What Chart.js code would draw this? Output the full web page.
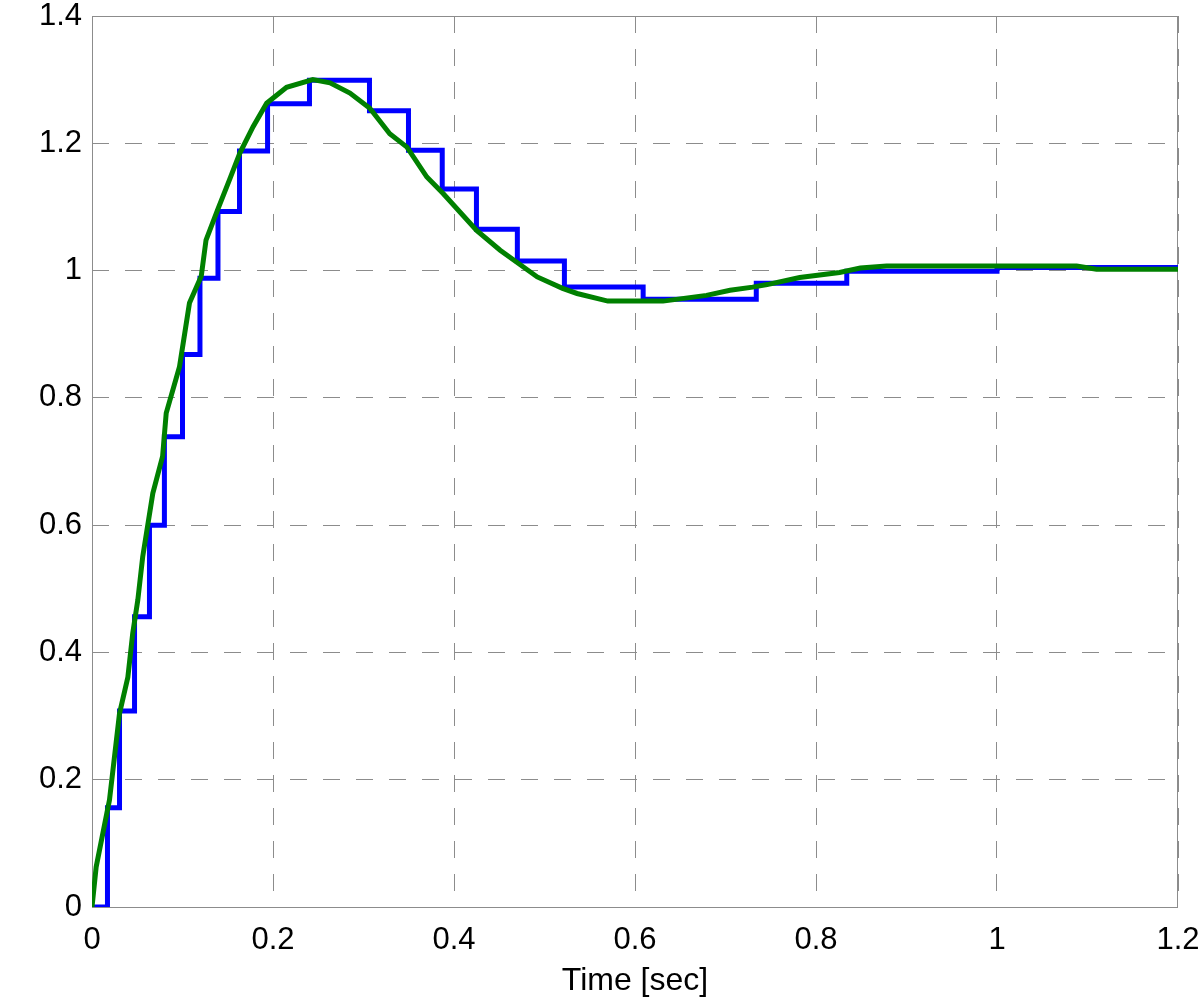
<!DOCTYPE html>
<html>
<head>
<meta charset="utf-8">
<style>
  body { margin: 0; background: #fff; }
  #wrap { width: 1200px; height: 1000px; }
</style>
<script src="https://cdn.jsdelivr.net/npm/chart.js@4/dist/chart.umd.min.js"></script>
</head>
<body>
<div id="wrap"><canvas id="myChart" width="1200" height="1000"></canvas></div>
<script>
// sampled (step) response: value holds from each time until the next one
const stepTimes  = [0, 0.0171, 0.0304, 0.047, 0.0635, 0.080, 0.100, 0.1193, 0.1392, 0.163, 0.194, 0.2403, 0.3066, 0.3497, 0.387, 0.4248, 0.470, 0.522, 0.609, 0.734, 0.834, 1.0, 1.2];
const stepValues = [0, 0.156, 0.308, 0.456, 0.600, 0.739, 0.868, 0.988, 1.093, 1.188, 1.262, 1.299, 1.251, 1.189, 1.128, 1.065, 1.015, 0.974, 0.955, 0.980, 0.999, 1.005, 1.005];

// continuous response
const contTimes  = [0, 0.0046, 0.0193, 0.0304, 0.0396, 0.045, 0.0506, 0.056, 0.0672, 0.078, 0.082, 0.0967, 0.1077, 0.1207, 0.126, 0.139, 0.152, 0.1635, 0.178, 0.193, 0.215, 0.244, 0.263, 0.285, 0.307, 0.329, 0.348, 0.37, 0.388, 0.425, 0.451, 0.492, 0.52, 0.536, 0.570, 0.631, 0.679, 0.705, 0.730, 0.746, 0.782, 0.826, 0.849, 0.878, 1.088, 1.11, 1.2];
const contValues = [0, 0.063, 0.168, 0.304, 0.361, 0.43, 0.482, 0.55, 0.65, 0.708, 0.776, 0.849, 0.949, 0.991, 1.048, 1.096, 1.143, 1.185, 1.226, 1.263, 1.288, 1.300, 1.295, 1.279, 1.255, 1.215, 1.194, 1.147, 1.121, 1.063, 1.032, 0.99, 0.972, 0.964, 0.952, 0.952, 0.961, 0.969, 0.974, 0.978, 0.989, 0.997, 1.004, 1.007, 1.007, 1.002, 1.002];

const xLabel = 'Time [sec]';

const toPoints = (xs, ys) => xs.map((x, i) => ({ x: x, y: ys[i] }));
// matlab style: 1 not 1.0
const tickText = (v) => String(Number(v.toFixed(2)));
// let the edge labels hang out, don't shrink the plot for them
const noEdgePad = (scale) => {
    scale.paddingTop = 0;
    scale.paddingBottom = 0;
    scale.paddingLeft = 0;
    scale.paddingRight = 0;
};

// box round the plot area, like matlab axes
const framePlugin = {
    id: 'frame',
    beforeDatasetsDraw(chart) {
        const a = chart.chartArea;
        const c = chart.ctx;
        c.save();
        c.strokeStyle = '#8c8c8c';
        c.lineWidth = 1;
        c.strokeRect(a.left + 0.5, a.top + 0.5, a.right - a.left - 1, a.bottom - a.top);
        c.restore();
    }
};

const ctx = document.getElementById('myChart').getContext('2d');
const myChart = new Chart(ctx, {
    type: 'line',
    data: {
        datasets: [{
            label: 'continuous',
            data: toPoints(contTimes, contValues),
            borderColor: '#008000',
            borderWidth: 5,
            tension: 0,
            order: 1
        }, {
            label: 'sampled',
            data: toPoints(stepTimes, stepValues),
            borderColor: '#0000ff',
            borderWidth: 5,
            stepped: 'before',
            borderJoinStyle: 'miter',
            order: 2
        }]
    },
    options: {
        responsive: false,
        animation: false,
        devicePixelRatio: 1,
        layout: {
            padding: { top: 16, right: 22, bottom: 0, left: 0 }
        },
        plugins: {
            legend: { display: false },
            tooltip: { enabled: false }
        },
        elements: {
            point: { radius: 0 }
        },
        scales: {
            x: {
                type: 'linear',
                min: 0,
                max: 1.2,
                grid: {
                    color: '#8c8c8c',
                    lineWidth: 1,
                    drawTicks: false
                },
                border: { display: false, dash: [17, 16] },
                ticks: {
                    stepSize: 0.2,
                    padding: 15,
                    color: '#000',
                    maxRotation: 0,
                    font: { family: "'Liberation Sans', Arial, sans-serif", size: 31 },
                    callback: tickText
                },
                title: {
                    display: true,
                    text: xLabel,
                    color: '#000',
                    padding: { top: 0, bottom: 0 },
                    font: { family: "'Liberation Sans', Arial, sans-serif", size: 32 }
                },
                afterFit: function(scale) {
                    scale.height = 93;
                    noEdgePad(scale);
                }
            },
            y: {
                min: 0,
                max: 1.4,
                grid: {
                    color: '#8c8c8c',
                    lineWidth: 1,
                    drawTicks: false
                },
                border: { display: false, dash: [17, 16] },
                ticks: {
                    stepSize: 0.2,
                    padding: 10,
                    color: '#000',
                    font: { family: "'Liberation Sans', Arial, sans-serif", size: 31 },
                    callback: tickText
                },
                afterFit: function(scale) {
                    scale.width = 92;
                    noEdgePad(scale);
                }
            }
        }
    },
    plugins: [framePlugin]
});
</script>
</body>
</html>
